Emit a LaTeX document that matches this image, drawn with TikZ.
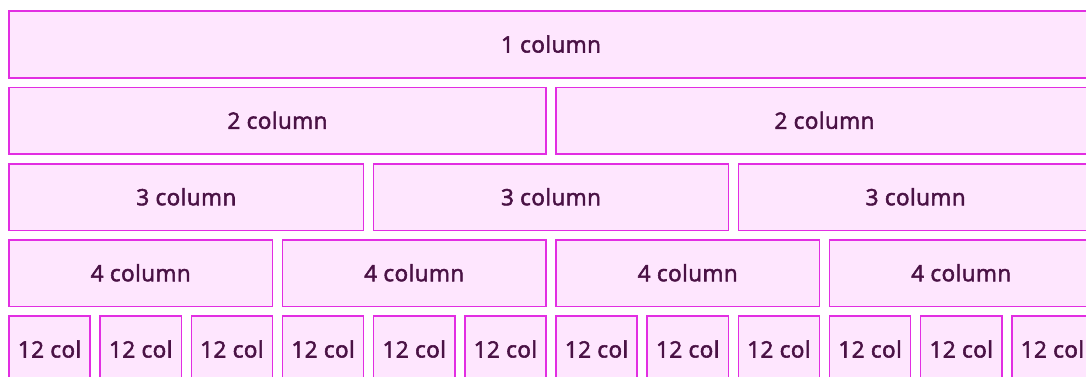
\documentclass[tikz,border=0pt]{standalone}
\usepackage{fontspec}
\setmainfont{Open Sans}
\newfontfamily\cellfont[FakeBold=2.4,LetterSpace=2]{Open Sans}
\definecolor{cellfill}{HTML}{FEE6FE}
\definecolor{cellline}{HTML}{E22EE2}
\definecolor{celltext}{HTML}{4A1245}
\begin{document}
\begin{tikzpicture}[x=1pt,y=1pt,
  cell/.style={draw=cellline,fill=cellfill,line width=1.4pt},
  celllabel/.style={text=celltext,font=\cellfont\fontsize{22.5}{26}\selectfont,anchor=base,inner sep=0pt}]
\useasboundingbox (0,0) rectangle (1086,376);
\pgfmathsetmacro{\pitch}{91.1667}
\def\rowbox#1#2#3#4#5#6{% name, leftcol, ncols, top, bottom, text
  \pgfmathsetmacro{\xl}{9+#2*\pitch}
  \pgfmathsetmacro{\xr}{9+(#2+#3)*\pitch-10}
  \path[cell] (\xl,376-#4) rectangle (\xr,376-#5);
  \node[celllabel] (#1) at ({(\xl+\xr)/2},{376-(#4+#5)/2-8}) {#6};}
\rowbox{r1}{0}{12}{11}{78}{1 column}
\foreach \i in {0,1}{\rowbox{r2c\i}{\i*6}{6}{87.5}{154}{2 column}}
\foreach \i in {0,1,2}{\rowbox{r3c\i}{\i*4}{4}{164}{230.5}{3 column}}
\foreach \i in {0,...,3}{\rowbox{r4c\i}{\i*3}{3}{240}{306.5}{4 column}}
\foreach \i in {0,...,11}{\rowbox{r5c\i}{\i}{1}{316}{383}{12 col}}
\end{tikzpicture}
\end{document}
